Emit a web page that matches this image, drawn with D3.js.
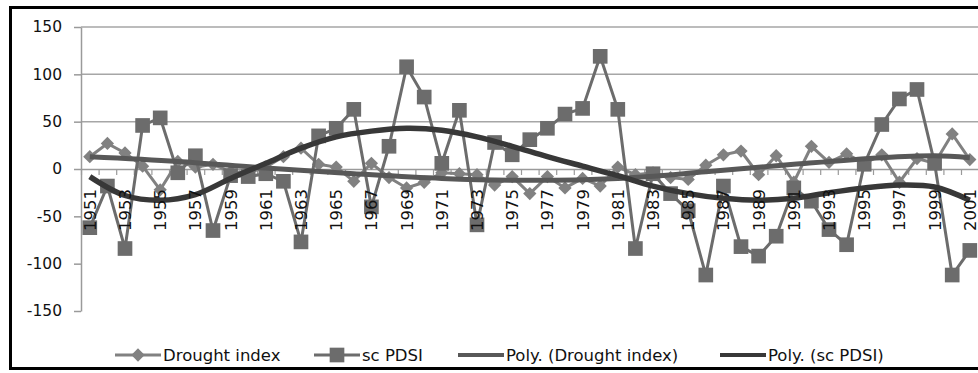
<!DOCTYPE html>
<html>
<head>
<meta charset="utf-8">
<script src="https://cdn.jsdelivr.net/npm/d3@7"></script>
<style>
body { margin: 0; background: #fff; }
text { font-family: "DejaVu Sans", sans-serif; fill: #111; }
</style>
</head>
<body>
<svg id="chart"></svg>
<script>
// categories
var years = [1951,1952,1953,1954,1955,1956,1957,1958,1959,1960,
    1961,1962,1963,1964,1965,1966,1967,1968,1969,1970,
    1971,1972,1973,1974,1975,1976,1977,1978,1979,1980,
    1981,1982,1983,1984,1985,1986,1987,1988,1989,1990,
    1991,1992,1993,1994,1995,1996,1997,1998,1999,2000,2001];

var yearLabels = [1951,1953,1955,1957,1959,1961,1963,1965,1967,1969,1971,1973,1975,
    1977,1979,1981,1983,1985,1987,1989,1991,1993,1995,1997,1999,2001];

var yTicks = [-150,-100,-50,0,50,100,150];
var gridVals = [50,100,150];

// series values
var droughtIndex = [13,27,17,3,-22,8,2,5,-3,-4,
    2,13,22,5,2,-13,6,-9,-20,-14,
    -4,-5,-6,-17,-8,-26,-8,-20,-10,-18,
    2,-6,-4,-9,-11,4,15,19,-6,14,
    -14,24,7,16,6,15,-14,11,6,37,10];

var scPDSI = [-62,-18,-84,46,54,-4,14,-65,-7,-8,
    -5,-13,-77,35,43,63,-40,24,108,76,
    6,62,-59,28,15,31,43,58,64,119,
    63,-84,-5,-26,-44,-112,-18,-82,-92,-71,
    -20,-34,-64,-80,5,47,74,84,6,-112,-86];

// trendlines (Excel polynomial)
var polyDroughtYears = [1951,1956,1961,1966,1971,1976,1981,1986,1991,1996,1999,2001];
var polyDroughtVals  = [13,8,1,-5,-10,-12,-10,-3,5,12,14,12];

var polyScYears = [1951,1953,1955,1957,1959,1961,1963,1965,1967,1969,1971,1973,1975,
    1977,1979,1981,1983,1985,1987,1989,1991,1993,1995,1997,1999,2001];
var polyScVals  = [-8,-28,-33,-27,-10,6,22,34,40,43,41,34,24,
    13,3,-7,-18,-26,-31,-33,-31,-25,-20,-17,-19,-33];

var width = 978, height = 373;
var plotL = 81, plotR = 978.6, plotT = 27, plotB = 311;

var svg = d3.select("#chart")
    .attr("width", width)
    .attr("height", height);

var x = d3.scaleBand().domain(years).range([plotL, plotR]);
var xEdge = d3.scaleLinear().domain([0, years.length]).range([plotL, plotR]);
var y = d3.scaleLinear().domain([-150, 150]).range([plotB, plotT]);

function cx(yr) { return x(yr) + x.bandwidth() / 2; }

// gridlines (only upper half shows in the original)
svg.append("g")
    .selectAll("line")
    .data(gridVals)
    .join("line")
    .attr("x1", plotL).attr("x2", plotR)
    .attr("y1", function(d) { return y(d); })
    .attr("y2", function(d) { return y(d); })
    .attr("stroke", "#a6a6a6")
    .attr("stroke-width", 1.5);

// y axis
var yAxis = svg.append("g")
    .attr("transform", "translate(" + plotL + ",0)")
    .call(d3.axisLeft(y).tickValues(yTicks).tickSize(7).tickSizeOuter(0)
        .tickPadding(12).tickFormat(function(d) { return String(d); }));
yAxis.select(".domain").attr("stroke", "#9a9a9a").attr("stroke-width", 1.5);
yAxis.selectAll(".tick line").attr("stroke", "#9a9a9a").attr("stroke-width", 1.5);
yAxis.selectAll(".tick text").style("font-size", "15.5px").attr("fill", "#111");

// x axis at zero, ticks between categories
var xAxis = svg.append("g")
    .attr("transform", "translate(0," + y(0) + ")")
    .call(d3.axisBottom(xEdge).tickValues(d3.range(years.length + 1))
        .tickSize(6).tickSizeOuter(0).tickFormat(""));
xAxis.select(".domain").attr("stroke", "#9a9a9a").attr("stroke-width", 1.5);
xAxis.selectAll(".tick line").attr("stroke", "#9a9a9a").attr("stroke-width", 1.2);

var diamond = d3.symbol().type(d3.symbolSquare).size(88);
var square = d3.symbol().type(d3.symbolSquare).size(215);

var droughtColor = "#818181", scColor = "#6c6c6c",
    polyDroughtColor = "#585858", polyScColor = "#383838";

// Drought index series
var line = d3.line()
    .x(function(d, i) { return cx(years[i]); })
    .y(function(d) { return y(d); });

svg.append("path")
    .datum(droughtIndex)
    .attr("d", line)
    .attr("fill", "none")
    .attr("stroke", droughtColor)
    .attr("stroke-width", 3);
svg.append("g")
    .selectAll("path")
    .data(droughtIndex)
    .join("path")
    .attr("d", diamond)
    .attr("transform", function(d, i) { return "translate(" + cx(years[i]) + "," + y(d) + ") rotate(45)"; })
    .attr("fill", droughtColor);

// sc PDSI series
svg.append("path")
    .datum(scPDSI)
    .attr("d", line)
    .attr("fill", "none")
    .attr("stroke", scColor)
    .attr("stroke-width", 3);
svg.append("g")
    .selectAll("path")
    .data(scPDSI)
    .join("path")
    .attr("d", square)
    .attr("transform", function(d, i) { return "translate(" + cx(years[i]) + "," + y(d) + ")"; })
    .attr("fill", scColor);

// trendlines
var trend = d3.line()
    .x(function(d) { return cx(d[0]); })
    .y(function(d) { return y(d[1]); })
    .curve(d3.curveCatmullRom.alpha(0.5));

svg.append("path")
    .datum(d3.zip(polyDroughtYears, polyDroughtVals))
    .attr("d", trend)
    .attr("fill", "none")
    .attr("stroke", polyDroughtColor)
    .attr("stroke-width", 5);

svg.append("path")
    .datum(d3.zip(polyScYears, polyScVals))
    .attr("d", trend)
    .attr("fill", "none")
    .attr("stroke", polyScColor)
    .attr("stroke-width", 5.5);

// rotated year labels, drawn over the marks like in the original
svg.append("g")
    .selectAll("text")
    .data(yearLabels)
    .join("text")
    .attr("transform", function(d) { return "translate(" + cx(d) + ",189) rotate(-90)"; })
    .attr("text-anchor", "end")
    .attr("dy", "0.36em")
    .style("font-size", "16.5px")
    .text(function(d) { return d; });

// legend
var legendY = 355;
var legend = [
    {name: "Drought index", x: 115, color: droughtColor, w: 3, mark: "diamond"},
    {name: "sc PDSI", x: 314, color: scColor, w: 3, mark: "square"},
    {name: "Poly. (Drought index)", x: 458, color: polyDroughtColor, w: 4, mark: null},
    {name: "Poly. (sc PDSI)", x: 720, color: polyScColor, w: 4, mark: null}
];
var lg = svg.append("g").selectAll("g").data(legend).join("g")
    .attr("transform", function(d) { return "translate(" + d.x + "," + legendY + ")"; });
lg.append("line")
    .attr("x1", 0).attr("x2", 46)
    .attr("stroke", function(d) { return d.color; })
    .attr("stroke-width", function(d) { return d.w; });
lg.filter(function(d) { return d.mark === "diamond"; })
    .append("path").attr("d", diamond).attr("transform", "translate(23,0) rotate(45)")
    .attr("fill", function(d) { return d.color; });
lg.filter(function(d) { return d.mark === "square"; })
    .append("path").attr("d", square).attr("transform", "translate(23,0)")
    .attr("fill", function(d) { return d.color; });
lg.append("text")
    .attr("x", 48)
    .attr("dy", "0.35em")
    .style("font-size", "16.5px")
    .text(function(d) { return d.name; });

// outer frame (right edge is cut off in the original)
svg.append("rect")
    .attr("x", 10.5).attr("y", 7.5)
    .attr("width", 985).attr("height", 361)
    .attr("fill", "none")
    .attr("stroke", "#000")
    .attr("stroke-width", 3);
</script>
</body>
</html>
